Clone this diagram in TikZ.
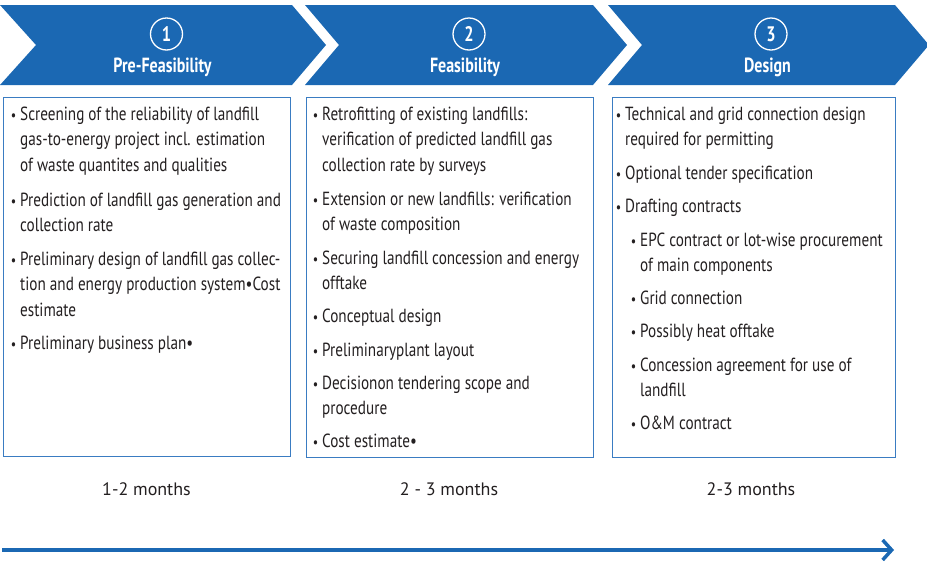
\documentclass[tikz,border=0pt]{standalone}
\usepackage{fontspec}
\setmainfont{PT Sans}
\newfontfamily\condfont{PT Sans}[FakeStretch=0.80]
\newfontfamily\titlefont{PT Sans}[FakeStretch=0.78]
\usetikzlibrary{arrows.meta}
\definecolor{chev}{HTML}{1B68B3}
\definecolor{boxline}{HTML}{3A7CC2}
\definecolor{txt}{HTML}{231F20}
\tikzset{
  chevron/.style={fill=chev},
  numcirc/.style={circle,draw=white,line width=1.3pt,minimum size=32pt,inner sep=0pt,text=white,font=\titlefont\bfseries\fontsize{21}{21}\selectfont},
  phasetitle/.style={anchor=base,text=white,inner sep=0pt,font=\titlefont\bfseries\fontsize{20.5}{20.5}\selectfont},
  panel/.style={draw=boxline,line width=1pt,anchor=north west,inner sep=0pt},
  item/.style={anchor=base west,inner sep=0pt,align=left,text=txt,font=\condfont\fontsize{19}{25.5}\selectfont},
  dur/.style={anchor=base,inner sep=0pt,text=txt,font=\rmfamily\fontsize{18}{18}\selectfont},
  timeline/.style={draw=chev,line width=3.5pt,-{Straight Barb[length=9pt,width=20pt]}}
}
\newcommand{\bul}{\llap{{\fontsize{15}{15}\selectfont\textbullet}\hspace{4pt}}}
\begin{document}
\begin{tikzpicture}[x=1pt,y=-1pt]
\useasboundingbox (0,0) rectangle (927,563);
% chevrons
\fill[chevron] (0,5) -- (292,5) -- (326,45) -- (292,85) -- (0,85) -- (36,45) -- cycle;
\fill[chevron] (305,5) -- (593,5) -- (627,45) -- (593,85) -- (305,85) -- (339,45) -- cycle;
\fill[chevron] (608,5) -- (895,5) -- (929,45) -- (895,85) -- (608,85) -- (642,45) -- cycle;
\node[numcirc] (n1) at (166.5,34) {1};
\node[numcirc] (n2) at (469,34) {2};
\node[numcirc] (n3) at (771,34) {3};
\node[phasetitle] (t1) at (162.5,72) {Pre-Feasibility};
\node[phasetitle] (t2) at (465,72) {Feasibility};
\node[phasetitle] (t3) at (767.5,72) {Design};
% panels
\node[panel,minimum width=287pt,minimum height=359pt] (b1) at (3,97) {};
\node[panel,minimum width=287pt,minimum height=360pt] (b2) at (306,97) {};
\node[panel,minimum width=283pt,minimum height=360pt] (b3) at (612,97) {};
% panel 1 (y = baseline of last line)
\node[item] (p1a) at (20,171) {\bul Screening of the reliability of landfill\\gas-to-energy project incl. estimation\\of waste quantites and qualities};
\node[item] (p1b) at (20,231.5) {\bul Prediction of landfill gas generation and\\collection rate};
\node[item] (p1c) at (20,316) {\bul Preliminary design of landfill gas collec-\\tion and energy production system•Cost\\estimate};
\node[item] (p1d) at (20,349) {\bul Preliminary business plan•};
% panel 2
\node[item] (p2a) at (322,171) {\bul Retrofitting of existing landfills:\\verification of predicted landfill gas\\collection rate by surveys};
\node[item] (p2b) at (322,230.5) {\bul Extension or new landfills: verification\\of waste composition};
\node[item] (p2c) at (322,289.5) {\bul Securing landfill concession and energy\\offtake};
\node[item] (p2d) at (322,322) {\bul Conceptual design};
\node[item] (p2e) at (322,356) {\bul Preliminaryplant layout};
\node[item] (p2f) at (322,414.5) {\bul Decisionon tendering scope and\\procedure};
\node[item] (p2g) at (322,447) {\bul Cost estimate•};
% panel 3
\node[item] (p3a) at (625,145.5) {\bul Technical and grid connection design\\required for permitting};
\node[item] (p3b) at (625,179) {\bul Optional tender specification};
\node[item] (p3c) at (625,212) {\bul Drafting contracts};
\node[item] (p3d) at (640,271.5) {\bul EPC contract or lot-wise procurement\\of main components};
\node[item] (p3e) at (640,304) {\bul Grid connection};
\node[item] (p3f) at (640,337) {\bul Possibly heat offtake};
\node[item] (p3g) at (640,396.5) {\bul Concession agreement for use of\\landfill};
\node[item] (p3h) at (640,429) {\bul O\&M contract};
% durations
\node[dur] (d1) at (146.5,495) {1-2 months};
\node[dur] (d2) at (449,495) {2 - 3 months};
\node[dur] (d3) at (751,495) {2-3 months};
% timeline
\coordinate (tl0) at (2,550);
\coordinate (tl1) at (894,550);
\draw[timeline] (tl0) -- (tl1);
\end{tikzpicture}
\end{document}
